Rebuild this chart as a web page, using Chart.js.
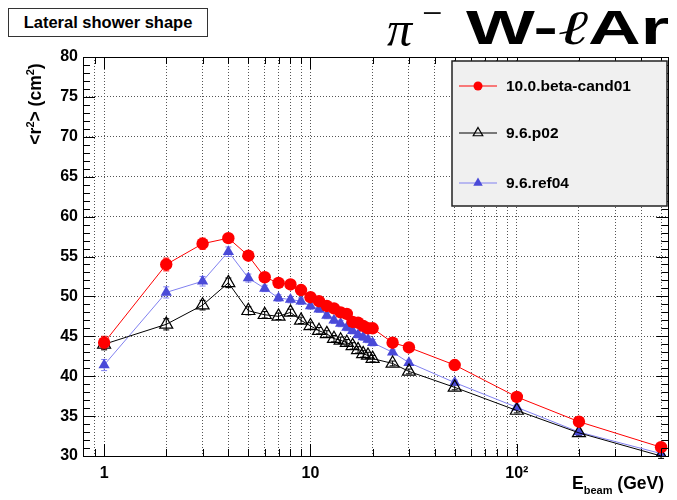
<!DOCTYPE html>
<html>
<head>
<meta charset="utf-8">
<script src="https://cdn.jsdelivr.net/npm/chart.js@4.4.1/dist/chart.umd.min.js"></script>
<style>
  body { margin: 0; background: #fff; }
  #wrap { position: relative; width: 677px; height: 500px; background: #fff; font-family: 'Liberation Sans', Arial, sans-serif; }
  #chart { position: absolute; left: 0; top: 0; }
  #ttl { position: absolute; left: 8px; top: 8px; width: 198px; height: 27px; border: 1px solid #333; background: #fff;
         font-weight: bold; font-size: 16.5px; line-height: 27px; text-align: center; }
  #pi { position: absolute; left: 387px; top: 1px; font-family: 'Liberation Serif', 'DejaVu Serif', serif; font-style: italic; font-size: 50px; line-height: 56px; }
  #minus { position: absolute; left: 422px; top: -7px; font-family: 'Liberation Serif', serif; font-size: 36px; line-height: 40px; }
  #det { position: absolute; left: 466px; top: 0px; font-weight: bold; font-size: 48px; line-height: 56px; white-space: nowrap;
         transform-origin: left center; transform: scaleX(1.52); }
  #det .ell { font-weight: normal; font-family: 'Liberation Serif', 'DejaVu Serif', serif; font-style: italic; }
  #ytitle { position: absolute; left: -30px; top: 93px; width: 120px; height: 22px; line-height: 22px; text-align: center;
            font-weight: bold; font-size: 17.5px; transform: rotate(-90deg); white-space: nowrap; }
  #xtitle { position: absolute; left: 572px; top: 473px; font-weight: bold; font-size: 17.5px; white-space: nowrap; }
  sup { font-size: 11px; vertical-align: 7px; }
  sub { font-size: 11px; vertical-align: -5px; }
</style>
</head>
<body>
<div id="wrap">
  <canvas id="chart" width="677" height="500"></canvas>
  <div id="ttl">Lateral shower shape</div>
  <div id="pi">π</div>
  <div id="minus">−</div>
  <div id="det">W-<span class="ell">ℓ</span>Ar</div>
  <div id="ytitle">&lt;r<sup>2</sup>&gt; (cm<sup>2</sup>)</div>
  <div id="xtitle">E<sub>beam</sub> (GeV)</div>
</div>
<script>
// beam energies (GeV)
const energies = [1, 2, 3, 4, 5, 6, 7, 8, 9, 10, 11, 12, 13, 14, 15, 16, 17, 18, 19, 20, 25, 30, 50, 100, 200, 500];

// <r^2> (cm^2) per release
const betaCand01 = [44.2, 54.0, 56.6, 57.3, 55.1, 52.4, 51.7, 51.5, 50.8, 49.9, 49.4, 48.8, 48.5, 48.0, 47.8, 46.8, 46.7, 46.3, 46.0, 46.0, 44.2, 43.6, 41.4, 37.4, 34.3, 31.1];
const p02 = [44.0, 46.5, 48.9, 51.7, 48.2, 47.7, 47.5, 48.0, 47.0, 46.3, 45.7, 45.3, 44.7, 44.5, 44.2, 43.8, 43.3, 42.8, 42.6, 42.2, 41.6, 40.6, 38.6, 35.7, 32.9, 30.0];
const ref04 = [41.4, 50.5, 51.9, 55.6, 52.3, 51.0, 49.8, 49.6, 49.4, 48.8, 48.4, 47.6, 47.0, 46.6, 46.1, 45.7, 45.2, 44.9, 44.6, 44.2, 43.0, 41.7, 39.2, 36.1, 33.0, 30.3];

// statistical errors
const errBeta = [0.8, 0.8, 0.7, 0.5, 0.5, 0.4, 0.4, 0.4, 0.4, 0.4, 0.4, 0.4, 0.4, 0.4, 0.4, 0.4, 0.4, 0.4, 0.4, 0.4, 0.3, 0.3, 0.3, 0.3, 0.3, 0.3];
const errP02 = [0.7, 0.7, 0.6, 0.6, 0.5, 0.4, 0.4, 0.4, 0.4, 0.4, 0.4, 0.4, 0.4, 0.4, 0.4, 0.4, 0.4, 0.4, 0.4, 0.4, 0.3, 0.3, 0.3, 0.3, 0.3, 0.3];
const errRef04 = [0.7, 0.7, 0.6, 0.6, 0.5, 0.4, 0.4, 0.4, 0.4, 0.4, 0.4, 0.4, 0.4, 0.4, 0.4, 0.4, 0.4, 0.4, 0.4, 0.4, 0.3, 0.3, 0.3, 0.3, 0.3, 0.3];

// axis tick positions
const xTicks = [0.9, 1, 2, 3, 4, 5, 6, 7, 8, 9, 10, 20, 30, 40, 50, 60, 70, 80, 90, 100, 200, 300, 400, 500];
const xLabels = { 1: '1', 10: '10', 100: '10²' };

const FONT = "'Liberation Sans', Arial, sans-serif";

function pts(ys) {
    return energies.map((e, i) => ({ x: e, y: ys[i] }));
}

const errors = [errBeta, errP02, errRef04];

const errorBars = {
    id: 'errorBars',
    beforeDatasetsDraw(chart) {
        const c = chart.ctx;
        const xs = chart.scales.x, ys = chart.scales.y;
        chart.data.datasets.forEach((ds, di) => {
            c.save();
            c.strokeStyle = ds.borderColor;
            c.lineWidth = 1;
            ds.data.forEach((p, i) => {
                const px = xs.getPixelForValue(p.x);
                const y1 = ys.getPixelForValue(p.y - errors[di][i]);
                const y2 = ys.getPixelForValue(p.y + errors[di][i]);
                c.beginPath();
                c.moveTo(px, y1); c.lineTo(px, y2);
                c.moveTo(px - 3, y1); c.lineTo(px + 3, y1);
                c.moveTo(px - 3, y2); c.lineTo(px + 3, y2);
                c.stroke();
            });
            c.restore();
        });
    }
};

const frameAndLegend = {
    id: 'frameAndLegend',
    afterDraw(chart) {
        const c = chart.ctx;
        const a = chart.chartArea;
        const xs = chart.scales.x, ys = chart.scales.y;
        c.save();
        c.strokeStyle = '#000';
        c.lineWidth = 1;
        // ticks
        c.beginPath();
        xTicks.forEach(v => {
            const px = Math.round(xs.getPixelForValue(v)) + 0.5;
            const len = xLabels[v] ? 12 : 7;
            c.moveTo(px, a.bottom); c.lineTo(px, a.bottom - len);
            c.moveTo(px, a.top); c.lineTo(px, a.top + len);
        });
        for (let v = 30; v <= 80; v++) {
            const py = Math.round(ys.getPixelForValue(v)) + 0.5;
            const len = v % 5 === 0 ? 12 : 7;
            c.moveTo(a.left, py); c.lineTo(a.left + len, py);
            c.moveTo(a.right, py); c.lineTo(a.right - len, py);
        }
        c.stroke();
        // frame
        c.strokeRect(Math.round(a.left) + 0.5, Math.round(a.top) + 0.5, Math.round(a.right - a.left), Math.round(a.bottom - a.top));

        // legend box
        const lx = 452, ly = 61, lw = 215, lh = 145;
        c.fillStyle = '#f0f0f0';
        c.fillRect(lx, ly, lw, lh);
        c.lineWidth = 1.5;
        c.strokeStyle = '#222';
        c.strokeRect(lx, ly, lw, lh);
        const rows = [86, 133, 183];
        chart.data.datasets.forEach((ds, i) => {
            const y = rows[i];
            c.strokeStyle = ds.borderColor;
            c.lineWidth = 1;
            c.beginPath();
            c.moveTo(459, y); c.lineTo(497, y);
            c.stroke();
            c.fillStyle = ds.pointBackgroundColor;
            c.strokeStyle = ds.pointBorderColor;
            c.lineWidth = ds.pointBorderWidth;
            Chart.helpers.drawPoint(c, {
                pointStyle: ds.pointStyle,
                radius: ds.legendRadius,
                borderWidth: ds.pointBorderWidth,
                rotation: 0
            }, 478, y);
            c.fillStyle = '#000';
            c.font = 'bold 15.5px ' + FONT;
            c.textBaseline = 'middle';
            c.textAlign = 'left';
            c.fillText(ds.label, 506, y + 1);
        });
        c.restore();
    }
};

const grid = { color: '#555', lineWidth: 1, drawTicks: false };
const border = { display: false, dash: [1, 2] };

const chart = new Chart(document.getElementById('chart').getContext('2d'), {
    type: 'line',
    data: {
        datasets: [
            {
                label: '10.0.beta-cand01',
                data: pts(betaCand01),
                borderColor: '#ff0000',
                borderWidth: 1,
                pointStyle: 'circle',
                pointRadius: 6.2,
                legendRadius: 4.5,
                pointBackgroundColor: '#ff0000',
                pointBorderColor: '#ff0000',
                pointBorderWidth: 0,
                tension: 0
            },
            {
                label: '9.6.p02',
                data: pts(p02),
                borderColor: '#000000',
                borderWidth: 1,
                pointStyle: 'triangle',
                pointRadius: 7.5,
                legendRadius: 5.5,
                pointBackgroundColor: 'rgba(255,255,255,0)',
                pointBorderColor: '#000000',
                pointBorderWidth: 1.2,
                tension: 0
            },
            {
                label: '9.6.ref04',
                data: pts(ref04),
                borderColor: '#8080f0',
                borderWidth: 1,
                pointStyle: 'triangle',
                pointRadius: 6.5,
                legendRadius: 5.5,
                pointBackgroundColor: '#4a4ad8',
                pointBorderColor: '#4a4ad8',
                pointBorderWidth: 0,
                tension: 0
            }
        ]
    },
    options: {
        responsive: false,
        animation: false,
        devicePixelRatio: 1,
        layout: { padding: { left: 0, top: 57, right: 7, bottom: 0 } },
        plugins: {
            legend: { display: false },
            title: { display: false },
            tooltip: { enabled: false }
        },
        scales: {
            x: {
                type: 'logarithmic',
                min: 0.79,
                max: 542,
                afterBuildTicks: scale => { scale.ticks = xTicks.map(v => ({ value: v })); },
                afterFit: scale => { scale.height = 44; },
                border: border,
                grid: grid,
                ticks: {
                    autoSkip: false,
                    maxRotation: 0,
                    padding: 8,
                    color: '#000',
                    font: { family: FONT, size: 16, weight: 'bold' },
                    callback: v => xLabels[v] || ''
                }
            },
            y: {
                min: 30,
                max: 80,
                afterFit: scale => { scale.width = 83; },
                border: border,
                grid: grid,
                ticks: {
                    stepSize: 5,
                    padding: 5,
                    color: '#000',
                    font: { family: FONT, size: 16, weight: 'bold' }
                }
            }
        }
    },
    plugins: [errorBars, frameAndLegend]
});
</script>
</body>
</html>
